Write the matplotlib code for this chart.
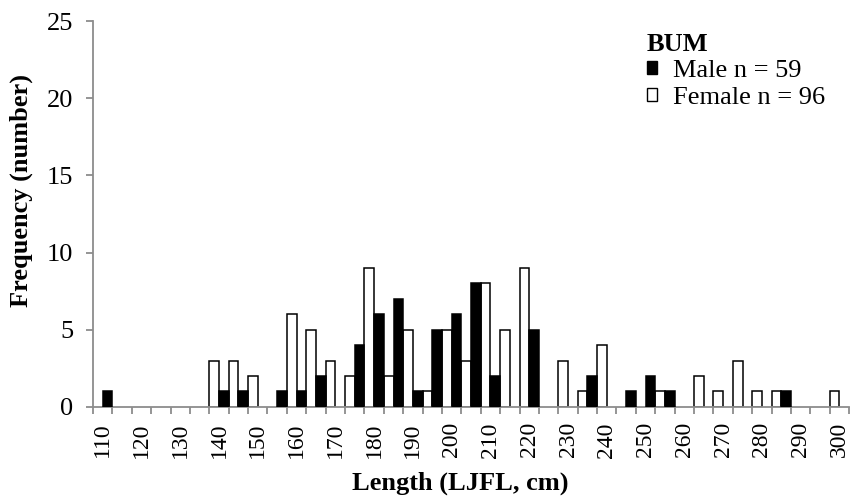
import matplotlib.pyplot as plt
from matplotlib.patches import Patch
import numpy as np

plt.rcParams['font.family'] = ['Liberation Serif', 'DejaVu Serif']

# length classes, 5 cm bins
lengths = list(range(110, 305, 5))
male = [1, 0, 0, 0, 0, 0, 1, 1, 0, 1, 1, 2, 0, 4, 6, 7, 1, 5, 6, 8,
        2, 0, 5, 0, 0, 2, 0, 1, 2, 1, 0, 0, 0, 0, 0, 1, 0, 0, 0]
female = [0, 0, 0, 0, 0, 0, 3, 3, 2, 0, 6, 5, 3, 2, 9, 2, 5, 1, 5, 3,
          8, 5, 9, 0, 3, 1, 4, 0, 0, 1, 0, 2, 1, 3, 1, 1, 0, 0, 1]
male_n = 59
female_n = 96

grey = '#8c8c8c'
x = np.arange(len(lengths))
m = np.array(male)
f = np.array(female)

fig = plt.figure(figsize=(8.5, 5.03), dpi=100)
ax = fig.add_axes([0.1094, 0.191, 0.8896, 0.767])

# empty classes get no bar at all (no outline on the baseline)
ax.bar(x[f > 0] - 0.25, f[f > 0], width=0.5, color='white', edgecolor='black', linewidth=1.1, zorder=2)
ax.bar(x[m > 0] + 0.25, m[m > 0], width=0.5, color='black', edgecolor='black', linewidth=1.1, zorder=3)

ax.set_xlim(-0.5, len(lengths) - 0.5)
ax.set_ylim(0, 25)
ax.set_yticks(range(0, 26, 5))

# labels every 10 cm at class centres, ticks at class boundaries
ax.set_xticks(x[::2])
ax.set_xticklabels([str(v) for v in lengths[::2]], rotation=90)
ax.set_xticks(np.arange(-0.5, len(lengths), 1), minor=True)
ax.tick_params(axis='x', which='major', length=0, pad=11, labelsize=17)
ax.tick_params(axis='x', which='minor', length=5, width=1.3, color=grey)
ax.tick_params(axis='y', length=5, width=1.3, color=grey, labelsize=19, pad=9)

for s in ['top', 'right']:
    ax.spines[s].set_visible(False)
for s in ['left', 'bottom']:
    ax.spines[s].set_color(grey)
    ax.spines[s].set_linewidth(1.3)

ax.set_xlabel('Length (LJFL, cm)', fontsize=19, fontweight='bold', labelpad=0)
ax.xaxis.set_label_coords(0.486, -0.168)
ax.set_ylabel('Frequency (number)', fontsize=19, fontweight='bold')
ax.yaxis.set_label_coords(-0.079, 0.562)

handles = [Patch(facecolor='black', edgecolor='black'),
           Patch(facecolor='white', edgecolor='black')]
leg = ax.legend(handles, [f'Male n = {male_n}', f'Female n = {female_n}'],
                title='BUM', loc='upper left', bbox_to_anchor=(0.761, 0.935),
                bbox_transform=fig.transFigure, frameon=False, fontsize=19,
                handlelength=0.4, handleheight=0.4, handletextpad=0.6,
                labelspacing=0.17, borderaxespad=0, borderpad=0, alignment='left',
                title_fontproperties={'weight': 'bold', 'size': 19})

plt.savefig('out.png', dpi=100)
plt.close()
